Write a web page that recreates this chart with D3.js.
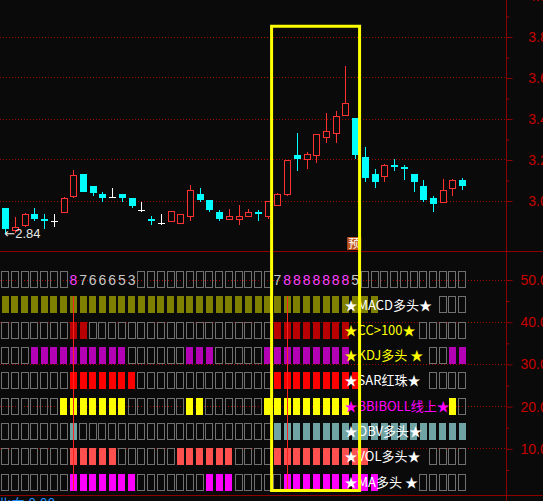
<!DOCTYPE html>
<html>
<head>
<meta charset="utf-8">
<script src="https://cdn.jsdelivr.net/npm/d3@7"></script>
<style>
  body { margin: 0; background: #0a0a0a; overflow: hidden; }
  svg { display: block; }
</style>
</head>
<body>
<script>
// daily candles
const opens = [2.962, 2.856, 2.876, 2.933, 2.910, 2.900, 2.940, 3.019, 3.129, 3.071, 3.032, 3.019, 3.032, 3.012, 2.952, 2.911, 2.892, 2.897, 2.889, 2.921, 3.032, 3.002, 2.944, 2.908, 2.906, 2.921, 2.945, 2.921, 2.978, 3.027, 3.222, 3.199, 3.219, 3.306, 3.326, 3.417, 3.402, 3.212, 3.129, 3.116, 3.175, 3.163, 3.129, 3.071, 3.012, 2.989, 3.058, 3.100];
const highs = [2.962, 2.921, 2.938, 2.962, 2.933, 2.933, 3.017, 3.149, 3.129, 3.071, 3.040, 3.060, 3.032, 3.012, 2.993, 2.924, 2.934, 2.949, 2.934, 3.076, 3.061, 3.002, 2.954, 2.959, 2.976, 2.959, 2.954, 2.999, 3.037, 3.198, 3.329, 3.235, 3.324, 3.427, 3.437, 3.656, 3.402, 3.261, 3.154, 3.177, 3.202, 3.173, 3.129, 3.100, 3.023, 3.105, 3.105, 3.111];
const lows = [2.840, 2.842, 2.872, 2.900, 2.861, 2.872, 2.938, 3.014, 3.041, 3.023, 2.994, 3.014, 2.994, 2.965, 2.945, 2.882, 2.882, 2.897, 2.889, 2.901, 2.994, 2.944, 2.901, 2.903, 2.880, 2.921, 2.901, 2.910, 2.973, 3.023, 3.144, 3.155, 3.184, 3.280, 3.280, 3.412, 3.204, 3.092, 3.062, 3.092, 3.145, 3.100, 3.043, 2.994, 2.945, 2.989, 3.023, 3.051];
const closes = [2.861, 2.869, 2.933, 2.910, 2.901, 2.900, 3.011, 3.120, 3.041, 3.035, 3.014, 3.019, 3.014, 2.975, 2.952, 2.901, 2.892, 2.944, 2.934, 3.050, 3.002, 2.954, 2.910, 2.924, 2.921, 2.942, 2.934, 2.993, 3.030, 3.193, 3.204, 3.222, 3.320, 3.339, 3.412, 3.471, 3.222, 3.111, 3.092, 3.173, 3.165, 3.155, 3.092, 3.002, 2.983, 3.051, 3.100, 3.072];

// signal rows (1 = condition true)
const macdOn = [1,1,1,1,1,1,1,1,1,1, 1,1,1,1,1,1,1,1,1,1, 1,1,1,1,1,1,1,1,1,1, 1,1,1,1,1,1,1,1,1,0, 0,0,0,0,0,0,0,0];
const cciOn  = [0,0,0,0,0,0,0,1,1,0, 0,0,0,0,0,0,0,0,0,0, 0,0,0,0,0,0,0,0,1,1, 1,1,1,1,1,1,0,0,0,0, 0,0,0,0,0,0,0,0];
const kdjOn  = [0,0,0,1,1,1,1,1,1,1, 1,1,1,0,0,0,0,0,0,1, 1,1,0,0,0,0,0,1,1,1, 1,1,1,1,1,1,0,0,0,0, 0,0,0,0,0,0,1,1];
const sarOn  = [0,0,0,0,0,0,0,1,1,1, 1,1,1,1,0,0,0,0,0,0, 0,0,0,0,0,0,0,0,1,1, 1,1,1,1,1,1,1,0,0,0, 0,0,0,0,0,0,0,0];
const bbiOn  = [0,0,0,0,0,0,1,1,1,1, 1,1,1,0,0,0,0,0,0,1, 1,0,0,0,0,0,0,1,1,1, 1,1,1,1,1,1,0,0,0,0, 0,0,0,0,0,0,1,0];
const obvOn  = [0,0,0,0,0,0,0,1,0,0, 0,0,0,0,0,0,0,0,0,0, 0,0,0,0,0,0,0,0,1,1, 1,1,1,1,1,1,1,1,1,1, 1,1,1,1,1,1,1,1];
const volOn  = [0,0,0,0,0,0,0,1,1,1, 1,1,0,0,0,0,0,0,1,1, 1,1,1,1,0,0,0,0,1,1, 1,1,1,1,1,1,1,1,0,0, 0,0,0,0,0,0,0,0];
const maOn   = [0,0,0,0,0,0,0,1,1,1, 1,1,1,1,0,0,0,0,0,0, 0,1,1,1,0,0,0,0,0,1, 1,1,1,1,1,1,1,1,1,0, 0,0,0,0,0,0,0,0];

// count row digits (0 = blank cell)
const counts = [0,0,0,0,0,0,0,8,7,6, 6,6,5,3,0,0,0,0,0,0, 0,0,0,0,0,0,0,0,7,8, 8,8,8,8,8,8,5,0,0,0, 0,0,0,0,0,0,0,0];

const rowLabels = ["MACD多头", "CC>100", "KDJ多头 ", "SAR红珠", "BBIBOLL线上", "OBV多头", "VOL多头", "MA多头 "];
const rowValues = [macdOn, cciOn, kdjOn, sarOn, bbiOn, obvOn, volOn, maOn];
const rowColors = ["#808000", "#b80000", "#b400b4", "#ff0000", "#ffff00", "#70a4a4", "#ff5050", "#ff00ff"];
const labelColors = ["#ffffff", "#ffff00", "#ffff00", "#ffffff", "#ff00ff", "#ffffff", "#ffffff", "#ffffff"];

const priceTicks = [3.0, 3.2, 3.4, 3.6, 3.8, 4.0];
const priceMinor = [3.1, 3.3, 3.5, 3.7, 3.9];
const indTicks = [10, 20, 30, 40, 50];
const indMinor = [5, 15, 25, 35, 45];
const signalIdx = [7, 29];
const boxStart = 28, boxEnd = 36;
const tagIdx = 36;

const W = 543, H = 501;
const bg = "#0a0a0a";
const axisColor = "#8c0000";
const labelColor = "#c80000";
const axisX = 506.5;

const svg = d3
  .select("body")
  .append("svg")
  .attr("width", W)
  .attr("height", H);

svg.append("rect").attr("width", W).attr("height", H).attr("fill", bg);

const x = d3.scaleBand().domain(d3.range(opens.length)).range([0.4, 467]);
const xc = (i) => x(i) + x.bandwidth() / 2;
const y = d3.scaleLinear().domain([3.0, 3.8]).range([200.5, 36.5]);
const yi = d3.scaleLinear().domain([0, 50]).range([490.5, 279.5]);

// dotted grid
svg
  .selectAll(".pgrid")
  .data(priceTicks.slice(0, 5))
  .enter()
  .append("line")
  .attr("x1", 0)
  .attr("x2", axisX)
  .attr("y1", (d) => Math.round(y(d)) + 0.5)
  .attr("y2", (d) => Math.round(y(d)) + 0.5)
  .attr("stroke", "#a00000")
  .attr("stroke-dasharray", "1,2");

svg
  .selectAll(".igrid")
  .data(indTicks)
  .enter()
  .append("line")
  .attr("x1", 0)
  .attr("x2", axisX)
  .attr("y1", (d) => Math.round(yi(d)) + 0.5)
  .attr("y2", (d) => Math.round(yi(d)) + 0.5)
  .attr("stroke", "#a00000")
  .attr("stroke-dasharray", "1,2");

// candles
const bars = d3.range(opens.length).map((i) => ({
  i: i, o: opens[i], h: highs[i], l: lows[i], c: closes[i],
}));
const candleColor = (d) => {
  if (d.c > d.o) return "#ff3232";
  if (d.c < d.o) return "#00ffff";
  return "#ffffff";
};

const cg = svg.append("g").attr("shape-rendering", "crispEdges");
cg.selectAll("line")
  .data(bars)
  .enter()
  .append("line")
  .attr("x1", (d) => Math.round(xc(d.i)) + 0.5)
  .attr("x2", (d) => Math.round(xc(d.i)) + 0.5)
  .attr("y1", (d) => y(d.h))
  .attr("y2", (d) => y(d.l))
  .attr("stroke", candleColor);

cg.selectAll("rect")
  .data(bars)
  .enter()
  .append("rect")
  .attr("x", (d) => Math.round(xc(d.i)) - 3 + (d.c > d.o ? 0.5 : 0))
  .attr("width", (d) => (d.c > d.o ? 6 : 7))
  .attr("y", (d) => y(Math.max(d.o, d.c)))
  .attr("height", (d) => Math.max(1, Math.abs(y(d.o) - y(d.c))))
  .attr("fill", (d) => (d.c > d.o ? bg : candleColor(d)))
  .attr("stroke", (d) => (d.c > d.o ? candleColor(d) : "none"));

// lowest price marker
const lowIdx = d3.minIndex(lows);
const lowText = svg
  .append("text")
  .attr("x", xc(lowIdx) - 1)
  .attr("y", y(lows[lowIdx]) + 5)
  .attr("fill", "#e6e6e6")
  .attr("font-size", 13);
lowText.append("tspan").attr("font-family", "DejaVu Sans").text("←");
lowText.append("tspan").attr("font-family", "Liberation Sans").text(lows[lowIdx].toFixed(2));

// small tag under the top candle
svg
  .append("rect")
  .attr("x", xc(tagIdx) - 8)
  .attr("y", 237)
  .attr("width", 14)
  .attr("height", 13)
  .attr("fill", "#c0561e");
svg
  .append("text")
  .attr("x", xc(tagIdx) - 1)
  .attr("y", 248)
  .attr("text-anchor", "middle")
  .attr("font-family", "Noto Sans CJK SC")
  .attr("font-size", 12)
  .attr("fill", "#ffffff")
  .text("预");

// row labels first, so their width is known
const labelX = xc(35) - 1;
const lg = svg.append("g").attr("font-family", "Noto Sans CJK SC").attr("font-size", 13);
const labelSpans = rowLabels.map((lab, r) => {
  const base = 42 - 6 * r;
  const t = lg
    .append("text")
    .attr("x", labelX)
    .attr("y", yi(base + 2))
    .attr("dy", "0.36em");
  t.append("tspan").attr("fill", labelColors[r]).text("★");
  t.append("tspan").attr("fill", labelColors[r]).text(lab);
  t.append("tspan").attr("fill", labelColors[r]).text("★");
  return [labelX, labelX + t.node().getComputedTextLength()];
});

// cells
const cells = svg.append("g").attr("shape-rendering", "crispEdges");
const cellTop = (base) => yi(base + 4);
const cellH = yi(0) - yi(4);

// count row
counts.forEach((n, i) => {
  if (n > 0) {
    cells
      .append("text")
      .attr("x", xc(i))
      .attr("y", yi(50))
      .attr("dy", "0.36em")
      .attr("text-anchor", "middle")
      .attr("font-family", "Liberation Sans")
      .attr("font-size", 14)
      .attr("fill", n === 8 ? "#ff40ff" : "#c8c8c8")
      .text(n);
  } else {
    cells
      .append("rect")
      .attr("x", Math.round(xc(i) - 4) + 0.5)
      .attr("y", Math.round(cellTop(48)) + 0.5)
      .attr("width", 7)
      .attr("height", Math.round(cellH) - 1)
      .attr("fill", "none")
      .attr("stroke", "#707070");
  }
});

rowValues.forEach((vals, r) => {
  const base = 42 - 6 * r;
  const span = labelSpans[r];
  vals.forEach((v, i) => {
    if (v) {
      cells
        .append("rect")
        .attr("x", Math.round(xc(i) - 3.5))
        .attr("y", Math.round(cellTop(base)))
        .attr("width", 7)
        .attr("height", Math.round(cellH))
        .attr("fill", rowColors[r]);
    } else if (xc(i) + 4 < span[0] || xc(i) - 4 > span[1]) {
      cells
        .append("rect")
        .attr("x", Math.round(xc(i) - 4) + 0.5)
        .attr("y", Math.round(cellTop(base)) + 0.5)
        .attr("width", 7)
        .attr("height", Math.round(cellH) - 1)
        .attr("fill", "none")
        .attr("stroke", "#707070");
    }
  });
});

// signal lines
svg
  .selectAll(".sig")
  .data(signalIdx)
  .enter()
  .append("line")
  .attr("x1", (d) => Math.round(xc(d)) + 0.5)
  .attr("x2", (d) => Math.round(xc(d)) + 0.5)
  .attr("y1", yi(46))
  .attr("y2", yi(0))
  .attr("stroke", "#ff2020");

lg.raise();

// frame lines
svg.append("line").attr("x1", axisX).attr("x2", axisX).attr("y1", 0).attr("y2", H).attr("stroke", axisColor);
svg.append("line").attr("x1", 0).attr("x2", W).attr("y1", 251.5).attr("y2", 251.5).attr("stroke", axisColor);
svg.append("line").attr("x1", 0).attr("x2", W).attr("y1", 495.5).attr("y2", 495.5).attr("stroke", axisColor);

// right axes (labels run off the window edge, as in the terminal)
const styleAxis = (g) => {
  g.attr("font-family", "Liberation Sans").attr("font-size", 14);
  g.select(".domain").remove();
  g.selectAll("line").attr("stroke", axisColor);
  g.selectAll("text")
    .attr("x", 49)
    .attr("text-anchor", "end")
    .attr("fill", labelColor);
};
const axisAt = (scale, ticks, size, fmt) =>
  svg
    .append("g")
    .attr("transform", `translate(${axisX},0.5)`)
    .call(d3.axisRight(scale).tickValues(ticks).tickSize(size).tickFormat(fmt))
    .call(styleAxis);

axisAt(y, priceTicks, 6, d3.format(".2f"));
axisAt(y, priceMinor, 3, () => "");
axisAt(yi, indTicks, 6, d3.format(".2f"));
axisAt(yi, indMinor, 3, () => "");

// highlight box
svg
  .append("rect")
  .attr("x", x(boxStart) - 1)
  .attr("y", y(3.85))
  .attr("width", x(boxEnd + 1) - 0.5 - (x(boxStart) - 1))
  .attr("height", yi(0) - y(3.85))
  .attr("fill", "none")
  .attr("stroke", "#ffff00")
  .attr("stroke-width", 3);

// next panel title, cut by the window
svg
  .append("text")
  .attr("x", -3)
  .attr("y", 509)
  .attr("font-family", "Noto Sans CJK SC")
  .attr("font-size", 14)
  .attr("fill", "#1e8cff")
  .text("北向 0.00");
</script>
</body>
</html>
